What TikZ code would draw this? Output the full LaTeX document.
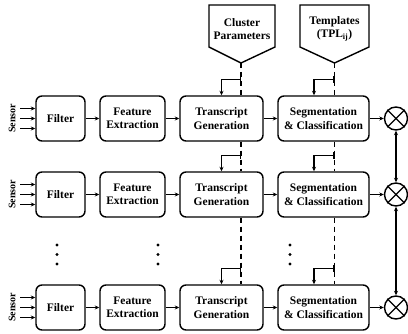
\documentclass[tikz,border=0pt]{standalone}
\usepackage{fontspec}
\setmainfont{Liberation Serif}
\usetikzlibrary{arrows.meta,calc}
\begin{document}
\begin{tikzpicture}[x=1pt,y=-1pt,
  blk/.style={draw, rounded corners=6pt, line width=1.4pt, fill=white, minimum height=45pt,
    align=center, inner sep=1pt, font=\bfseries\fontsize{11.5}{13.3}\selectfont},
  txt/.style={align=center, inner sep=1pt, font=\bfseries\fontsize{11.5}{13.3}\selectfont},
  sens/.style={rotate=90, inner sep=1pt, font=\bfseries\fontsize{10}{11}\selectfont},
  arr/.style={-{Stealth[length=4.5pt,width=4pt]}, line width=1.1pt},
  darr/.style={{Stealth[length=4.5pt,width=4pt]}-{Stealth[length=4.5pt,width=4pt]}, line width=1.1pt},
  tap/.style={{Bar[width=7pt,line width=1.1pt]}-{Stealth[length=4.5pt,width=4pt]}, line width=1.1pt},
  dline/.style={line width=1.1pt, dash pattern=on 5pt off 4pt},
  mult/.style={draw, circle, line width=1.4pt, minimum size=23pt, inner sep=0pt},
  pent/.style={draw, line width=1.4pt, fill=white},
  dotc/.style={fill=black}
]
\useasboundingbox (0,0) rectangle (408,334);

% pentagons
\draw[pent] (209,5) -- (275,5) -- (275,47) -- (241,63) -- (209,47) -- cycle;
\coordinate (cptip) at (241,63);
\node[txt] (cp) at (242,29) {Cluster\\Parameters};
\draw[pent] (300,5) -- (369,5) -- (369,47) -- (334.5,63) -- (300,47) -- cycle;
\coordinate (tptip) at (334.5,63);
\node[txt] (tp) at (334.5,29) {Templates\\(TPL\textsubscript{ij})};

% rows
\foreach \r/\y in {1/118.5, 2/194.5, 3/307.5}{
  \node[blk, minimum width=49pt] (F\r) at (60.5,\y) {Filter};
  \node[blk, minimum width=65pt] (E\r) at (132.5,\y) {Feature\\Extraction};
  \node[blk, minimum width=83pt] (T\r) at (221.5,\y) {Transcript\\Generation};
  \node[blk, minimum width=91pt] (S\r) at (323.5,\y) {Segmentation\\\& Classification};
  \node[mult] (C\r) at (396,\y) {};
  \draw[line width=1.2pt] (C\r.north west) -- (C\r.south east) (C\r.north east) -- (C\r.south west);
  \node[sens] (L\r) at (12,\y) {Sensor};
  \draw[arr] ([xshift=-15pt,yshift=10pt]F\r.west) -- ([yshift=10pt]F\r.west);
  \draw[arr] ([xshift=-15pt]F\r.west) -- (F\r.west);
  \draw[arr] ([xshift=-15pt,yshift=-10pt]F\r.west) -- ([yshift=-10pt]F\r.west);
  \draw[arr] (F\r) -- (E\r);
  \draw[arr] (E\r) -- (T\r);
  \draw[arr] (T\r) -- (S\r);
  \draw[arr] (S\r) -- (C\r);
  % taps
  \coordinate (bt\r) at ($(cptip|-T\r.north)+(0,-16)$);
  \coordinate (bs\r) at ($(tptip|-S\r.north)+(0,-16)$);
  \draw[tap] (bt\r) -| (T\r.north);
  \draw[tap] (bs\r) -| ([xshift=-9.5pt]S\r.north);
}

% dashed distribution lines
\draw[dline] (cptip) -- (cptip|-T1.north);
\draw[dline] (cptip|-T1.south) -- (cptip|-T2.north);
\draw[dline] (cptip|-T2.south) -- (cptip|-T3.north);
\draw[dline] (tptip) -- (tptip|-S1.north);
\draw[dline] (tptip|-S1.south) -- (tptip|-S2.north);
\draw[dline] (tptip|-S2.south) -- (tptip|-S3.north);

% multiplier links
\draw[darr] (C1.south) -- (C2.north);
\draw[darr] (C2.south) -- (C3.north);

% ellipsis dots
\foreach \x in {57,158,290}{
  \foreach \yy in {245,254.5,264}{
    \fill[dotc] (\x,\yy) circle (1.6pt);
  }
}
\end{tikzpicture}
\end{document}
